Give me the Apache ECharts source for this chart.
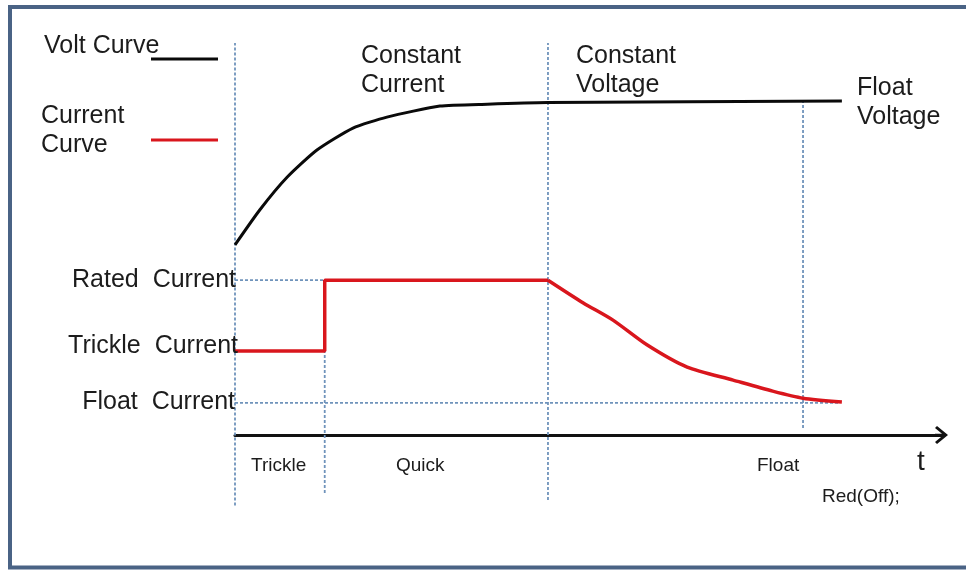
<!DOCTYPE html>
<html><head><meta charset="utf-8">
<script src="https://cdn.jsdelivr.net/npm/echarts@6/dist/echarts.min.js"></script>
<style>html,body{margin:0;padding:0;background:#fff}#c{width:966px;height:570px}</style>
</head><body><div id="c"></div>
<script>
// Voltage curve (time, level)
const voltX = [0, 3.5, 7.4, 11.6, 16.7, 21.5, 29.0, 35.7, 44.3, 85.9];
const voltY = [48.5, 57.4, 65.8, 72.7, 78.3, 81.1, 83.9, 84.4, 84.8, 85.2];
// Current curve: step part and decay part
const stepX = [0, 12.7, 12.7, 44.3];
const stepY = [21.4, 21.4, 39.5, 39.5];
const decayX = [44.3, 49.3, 53.5, 58.3, 64.0, 70.5, 76.1, 80.4, 85.9];
const decayY = [39.5, 33.7, 29.3, 23.0, 17.3, 14.0, 11.2, 9.4, 8.4];
// Phase boundaries and the vertical extent of their guide lines
const boundaryX = [0, 12.7, 44.3, 80.4];
const guideBottom = [-18, -14.8, -16.6, 1.8];
const guideTop = [100, 39.5, 100, 85.2];
// Current levels
const levelNames = ['Rated  Current', 'Trickle  Current', 'Float  Current'];
const levelValues = [39.5, 21.4, 8.2];
const levelGuideEnd = [12.7, null, 85.5];
// Phase labels
const phaseNames = ['Trickle', 'Quick', 'Float'];

const chart = echarts.init(document.getElementById('c'), null, {renderer: 'canvas'});
const zip = (a, b) => a.map((v, i) => [v, b[i]]);
const dashStyle = {color: '#6f93bb', width: 1.8, type: [3, 2]};
const guideSeries = [];
boundaryX.forEach((x, i) => {
  guideSeries.push({type: 'line', silent: true, symbol: 'none', z: 1,
    data: [[x, guideBottom[i]], [x, guideTop[i]]], lineStyle: dashStyle});
});
levelValues.forEach((v, i) => {
  if (levelGuideEnd[i] == null) return;
  guideSeries.push({type: 'line', silent: true, symbol: 'none', z: 1,
    data: [[0, v], [levelGuideEnd[i], v]], lineStyle: dashStyle});
});

const F = '"Liberation Sans", Arial, sans-serif';
const txt = (text, x, y, size, align) => ({
  type: 'text', x: x, y: y, silent: true, z: 10,
  style: {text: text, font: size + 'px ' + F, fill: '#1c1c1c',
    align: align || 'left', textAlign: align || 'left',
    verticalAlign: 'middle', textVerticalAlign: 'middle', lineHeight: 29}
});

const option = {
  animation: false,
  backgroundColor: '#ffffff',
  grid: {left: 235, right: 966 - 941.5, top: 43, bottom: 64.44},
  xAxis: {type: 'value', min: 0, max: 100,
    axisLine: {show: true, onZero: true, lineStyle: {color: '#111', width: 3},
      symbol: ['none', 'path://M9,0 L18,11 L16,13 L9,4.5 L2,13 L0,11 Z M7.8,2 L10.2,2 L10.2,13 L7.8,13 Z'],
      symbolSize: [18, 13]},
    axisTick: {show: false}, axisLabel: {show: false}, splitLine: {show: false}},
  yAxis: {type: 'value', min: -18, max: 100,
    axisLine: {show: false}, axisTick: {show: false}, axisLabel: {show: false}, splitLine: {show: false}},
  series: guideSeries.concat([
    {name: 'Volt Curve', type: 'line', symbol: 'none', smooth: 0.2, z: 3,
      data: zip(voltX, voltY), lineStyle: {color: '#0a0a0a', width: 3}},
    {name: 'Current Step', type: 'line', symbol: 'none', z: 4,
      data: zip(stepX, stepY), lineStyle: {color: '#d9161d', width: 3.5}},
    {name: 'Current Decay', type: 'line', symbol: 'none', smooth: 0.25, z: 4,
      data: zip(decayX, decayY), lineStyle: {color: '#d9161d', width: 3.5}}
  ]),
  graphic: [
    {type: 'rect', silent: true, shape: {x: 10, y: 7, width: 990, height: 560.5},
      style: {fill: 'none', stroke: '#4a6385', lineWidth: 4}},
    {type: 'line', silent: true, shape: {x1: 151, y1: 59, x2: 218, y2: 59}, style: {stroke: '#0a0a0a', lineWidth: 3}},
    {type: 'line', silent: true, shape: {x1: 151, y1: 140, x2: 218, y2: 140}, style: {stroke: '#d9161d', lineWidth: 3}},
    txt('Volt Curve', 44, 46, 25),
    txt('Current\nCurve', 41, 131, 25),
    txt('Constant\nCurrent', 361, 71, 25),
    txt('Constant\nVoltage', 576, 70.5, 25),
    txt('Float\nVoltage', 857, 103, 25),
    txt(levelNames[0], 236, 280.5, 25, 'right'),
    txt(levelNames[1], 238, 346, 25, 'right'),
    txt(levelNames[2], 235, 402.5, 25, 'right'),
    txt(phaseNames[0], 251, 465.5, 19),
    txt(phaseNames[1], 396, 465.5, 19),
    txt(phaseNames[2], 757, 465.5, 19),
    txt('t', 917, 462, 28),
    txt('Red(Off);', 822, 497, 19)
  ]
};
chart.setOption(option);
</script></body></html>
